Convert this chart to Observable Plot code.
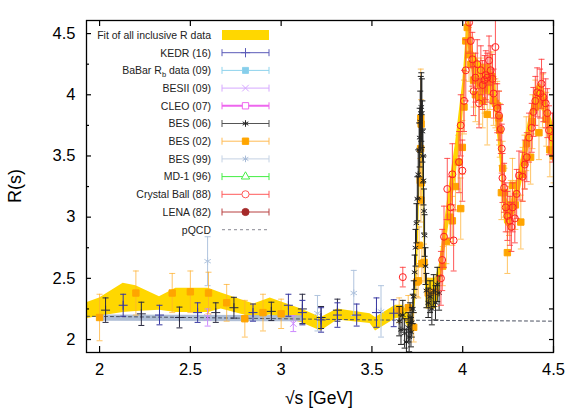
<!DOCTYPE html>
<html>
<head>
<meta charset="utf-8">
<script src="https://cdn.jsdelivr.net/npm/d3@7"></script>
<script src="https://cdn.jsdelivr.net/npm/@observablehq/plot@0.6"></script>
<style>
  html, body { margin: 0; padding: 0; background: #fff; }
  #chart { position: relative; width: 584px; height: 409px; font-family: "Liberation Sans", Arial, sans-serif; }
  #overlay { position: absolute; left: 0; top: 0; pointer-events: none; }
</style>
</head>
<body>
<div id="chart"></div>
<script>
// Axis ticks
const xTicks = [2, 2.5, 3, 3.5, 4, 4.5];
const yTicks = [2, 2.5, 3, 3.5, 4, 4.5];
const yMinorTicks = [2.25, 2.75, 3.25, 3.75, 4.25];

// Fit of all inclusive R data: [sqrt(s), lower, upper]
const fitBand = [
  [1.928,2.17,2.30],[2.00,2.19,2.34],[2.13,2.22,2.46],[2.20,2.23,2.44],[2.33,2.24,2.35],
  [2.42,2.22,2.42],[2.60,2.22,2.42],[2.67,2.25,2.38],[2.85,2.18,2.29],[2.94,2.20,2.34],
  [3.11,2.14,2.25],[3.22,2.07,2.18],[3.31,2.16,2.25],[3.49,2.13,2.21],[3.52,2.07,2.18],
  [3.63,2.17,2.28],[3.67,2.18,2.28],[3.70,2.10,2.22],[3.72,2.05,2.18],[3.74,2.30,2.50],
  [3.755,2.75,3.05],[3.765,3.30,3.65],[3.772,3.55,3.90],[3.78,3.20,3.55],[3.79,2.60,2.90],
  [3.80,2.25,2.50],[3.85,2.25,2.50],[3.87,2.35,2.60],[3.90,2.70,2.95],[3.93,3.00,3.30],
  [3.96,3.30,3.60],[4.00,3.80,4.10],[4.03,4.40,4.70],[4.06,4.10,4.35],[4.10,4.00,4.25],
  [4.15,4.00,4.25],[4.18,3.85,4.10],[4.21,3.40,3.70],[4.23,2.95,3.20],[4.26,2.90,3.10],
  [4.30,3.10,3.30],[4.35,3.45,3.70],[4.40,3.85,4.05],[4.42,3.90,4.10],[4.45,3.85,4.05],
  [4.48,3.60,3.85],[4.50,3.50,3.75]
];

// pQCD prediction and its uncertainty band
const pqcdLine = [[1.928,2.19],[2.5,2.18],[3.0,2.17],[3.5,2.16],[4.0,2.155],[4.5,2.15]];
const pqcdBand = [[2.00,2.15,2.20],[3.12,2.145,2.195]];

// Measurements: [sqrt(s) GeV, R, error]
const kedr = [
  [2.13,2.28,0.09],[2.33,2.20,0.08],[2.54,2.22,0.08],[2.845,2.22,0.07],[3.04,2.28,0.09],
  [3.117,2.22,0.10],[3.22,2.16,0.10],[3.31,2.20,0.10],[3.416,2.20,0.09],[3.525,2.22,0.12],
  [3.62,2.215,0.11]
];
const kedrScan = [
  [2.033,2.24,0.10],[2.23,2.21,0.095],[2.44,2.18,0.085],[2.64,2.22,0.08],[2.74,2.26,0.085],
  [2.946,2.23,0.075],[3.117,2.25,0.12],[3.22,2.18,0.09],[3.31,2.24,0.09]
];
const besii09 = [[2.595,2.18,0.07],[3.067,2.13,0.065]];
const bes99 = [[2.595,2.64,0.20],[3.20,2.215,0.145],[3.40,2.38,0.185],[3.55,2.23,0.21]];
const bes06 = [
  [3.650,2.15,0.12],[3.660,2.08,0.12],[3.670,2.20,0.12],[3.680,2.05,0.12],[3.690,1.98,0.10],
  [3.700,2.10,0.12],[3.705,2.02,0.12],[3.710,2.18,0.12],[3.715,2.06,0.12],[3.720,2.14,0.12],
  [3.725,2.25,0.12],[3.730,2.35,0.13],[3.735,2.55,0.14],[3.740,2.75,0.15],[3.745,2.95,0.16],
  [3.750,3.15,0.18],[3.755,3.35,0.20],[3.760,3.55,0.22],[3.763,3.65,0.24],[3.766,3.78,0.25],
  [3.769,3.85,0.30],[3.772,3.90,0.28],[3.775,3.85,0.28],[3.778,3.70,0.25],[3.781,3.50,0.22],
  [3.784,3.30,0.20],[3.787,3.05,0.18],[3.790,2.85,0.17],[3.795,2.60,0.15],[3.800,2.40,0.14],
  [3.810,2.30,0.12],[3.820,2.35,0.13],[3.830,2.25,0.13],[3.840,2.40,0.13],[3.850,2.30,0.14],
  [3.860,2.45,0.14],[3.870,2.38,0.14]
];
const bes02 = [
  [2.000,2.18,0.19],[2.200,2.38,0.18],[2.400,2.38,0.16],[2.500,2.39,0.17],[2.600,2.38,0.17],
  [2.700,2.30,0.15],[2.800,2.17,0.15],[2.900,2.22,0.15],[3.000,2.21,0.12],[3.650,2.24,0.10],
  [3.700,2.26,0.10],[3.730,2.10,0.12],[3.747,2.47,0.12],[3.755,2.48,0.14],[3.760,2.77,0.15],
  [3.766,3.30,0.18],[3.768,3.56,0.20],[3.769,3.81,0.40],[3.770,3.14,0.18],[3.771,3.76,0.20],
  [3.772,3.28,0.18],[3.775,2.62,0.15],[3.787,2.63,0.15],[3.810,2.38,0.12],[3.850,2.39,0.12],
  [3.890,2.60,0.16],[3.910,2.80,0.18],[3.930,3.00,0.20],[3.943,2.97,0.20],[3.960,3.25,0.20],
  [3.975,3.45,0.22],[3.989,3.07,0.25],[3.998,3.57,0.22],[4.007,3.90,0.22],[4.017,4.44,0.25],
  [4.025,4.55,0.25],[4.035,4.33,0.22],[4.045,4.25,0.22],[4.060,4.12,0.22],[4.070,4.00,0.22],
  [4.090,3.98,0.22],[4.100,4.10,0.20],[4.110,3.95,0.22],[4.120,4.05,0.20],[4.135,3.84,0.25],
  [4.150,4.10,0.22],[4.160,4.15,0.20],[4.170,3.95,0.20],[4.180,3.93,0.20],[4.190,3.91,0.20],
  [4.200,3.81,0.22],[4.204,3.71,0.22],[4.213,3.20,0.22],[4.220,3.40,0.22],[4.230,3.20,0.20],
  [4.246,2.71,0.17],[4.255,3.05,0.20],[4.265,3.10,0.20],[4.274,3.26,0.22],[4.290,3.10,0.20],
  [4.320,2.96,0.22],[4.330,3.35,0.22],[4.340,3.45,0.22],[4.350,3.60,0.22],[4.374,3.49,0.22],
  [4.384,3.78,0.22],[4.400,3.90,0.22],[4.420,3.69,0.22],[4.440,3.95,0.22],[4.460,3.80,0.22],
  [4.480,3.55,0.22],[4.500,3.50,0.22]
];
const crystalBall = [
  [3.670,2.51,0.08],[3.880,2.50,0.22],[3.887,2.65,0.25],[3.897,2.84,0.25],[3.915,3.23,0.25],
  [3.934,3.08,0.25],[3.943,3.35,0.25],[3.950,2.81,0.25],[3.980,3.45,0.25],[3.989,3.75,0.25],
  [3.998,3.38,0.25],[4.007,3.95,0.25],[4.017,4.20,0.25],[4.035,4.59,0.25],[4.044,4.44,0.22],
  [4.053,4.29,0.22],[4.060,4.03,0.20],[4.070,4.14,0.20],[4.080,4.25,0.20],[4.090,3.93,0.20],
  [4.100,4.20,0.20],[4.110,4.08,0.20],[4.120,4.12,0.20],[4.127,4.16,0.20],[4.135,4.14,0.20],
  [4.145,4.28,0.20],[4.154,4.20,0.20],[4.164,4.13,0.20],[4.170,4.01,0.20],[4.180,4.39,0.30],
  [4.190,3.89,0.20],[4.200,3.83,0.20],[4.210,3.72,0.20],[4.215,3.56,0.20],[4.219,3.32,0.20],
  [4.228,3.24,0.20],[4.237,3.08,0.20],[4.246,3.01,0.20],[4.260,2.97,0.20],[4.268,2.92,0.20],
  [4.275,3.08,0.20],[4.287,2.99,0.20],[4.297,3.19,0.20],[4.310,3.34,0.20],[4.330,3.33,0.20],
  [4.342,3.43,0.20],[4.353,3.49,0.20],[4.365,3.65,0.20],[4.380,3.73,0.20],[4.389,3.86,0.20],
  [4.400,3.95,0.20],[4.410,4.02,0.20],[4.426,4.01,0.20],[4.434,4.09,0.20],[4.444,3.98,0.20],
  [4.457,3.93,0.20],[4.466,3.85,0.20],[4.475,3.71,0.20],[4.494,3.65,0.20]
];

const legendLabels = [
  "Fit of all inclusive R data", "KEDR (16)", "BaBar R_b data (09)", "BESII (09)", "CLEO (07)",
  "BES (06)", "BES (02)", "BES (99)", "MD-1 (96)", "Crystal Ball (88)", "LENA (82)", "pQCD"
];

// Horizontal cap drawn at both ends of every error bar
const cap = {
  draw(ctx, size) {
    const w = Math.sqrt(size / Math.PI);
    ctx.moveTo(-w, 0);
    ctx.lineTo(w, 0);
  }
};

function errorSeries(data, o) {
  const bar = o.bar || o.color;
  const barOpacity = o.barOpacity ?? 1;
  const x = d => d[0];
  return [
    Plot.ruleX(data, {x, y1: d => d[1] - d[2], y2: d => d[1] + d[2], stroke: bar, strokeOpacity: barOpacity, strokeWidth: 1, clip: true}),
    Plot.dot(data, {x, y: d => d[1] - d[2], symbol: cap, r: 3, fill: "none", stroke: bar, strokeOpacity: barOpacity, strokeWidth: 1, clip: true}),
    Plot.dot(data, {x, y: d => d[1] + d[2], symbol: cap, r: 3, fill: "none", stroke: bar, strokeOpacity: barOpacity, strokeWidth: 1, clip: true}),
    Plot.dot(data, {x, y: d => d[1], symbol: o.symbol, r: o.r || 3, fill: o.fill || "none", stroke: o.color, strokeWidth: o.sw || 1, clip: true})
  ];
}

const chart = Plot.plot({
  width: 584,
  height: 409,
  marginLeft: 86,
  marginRight: 31,
  marginTop: 20,
  marginBottom: 57,
  x: {domain: [1.928, 4.5]},
  y: {domain: [1.894, 4.607]},
  style: {fontFamily: "'Liberation Sans', Arial, sans-serif", color: "#000", background: "#fff", overflow: "visible"},
  marks: [
    Plot.areaY(fitBand, {x: d => d[0], y1: d => d[1], y2: d => d[2], fill: "#ffd700", clip: true}),
    Plot.areaY(pqcdBand, {x: d => d[0], y1: d => d[1], y2: d => d[2], fill: "#a6b7d2", fillOpacity: 0.9, clip: true}),
    Plot.line(pqcdLine, {x: d => d[0], y: d => d[1], stroke: "#4a5060", strokeWidth: 1, strokeDasharray: "3,3", clip: true}),
    ...errorSeries(bes99, {color: "#b0c4de", symbol: "asterisk", r: 3.5}),
    ...errorSeries(besii09, {color: "#cc88ff", symbol: "times", r: 3}),
    ...errorSeries(bes02, {color: "#ffa500", bar: "#ffb030", barOpacity: 0.75, symbol: "square", fill: "#ffa500", r: 3.6}),
    ...errorSeries(kedrScan, {color: "#2a2a40", symbol: "plus", r: 3}),
    ...errorSeries(kedr, {color: "#3636a0", symbol: "plus", r: 3}),
    ...errorSeries(bes06, {color: "#222222", symbol: "asterisk", r: 3}),
    ...errorSeries(crystalBall, {color: "#ff2020", bar: "#ff3a3a", barOpacity: 0.85, symbol: "circle", r: 3.5}),
    Plot.frame({stroke: "#000", strokeWidth: 1.3}),
    // tick labels
    Plot.axisX({anchor: "bottom", ticks: xTicks, tickSize: 0, tickPadding: 11, fontSize: 16.5, label: null, tickFormat: d => String(d)}),
    Plot.axisY({anchor: "left", ticks: yTicks, tickSize: 0, tickPadding: 11, fontSize: 16.5, label: null, tickFormat: d => String(d)}),
    // inward tick marks on all four sides
    Plot.axisX({anchor: "bottom", ticks: xTicks, tickSize: -6, tickFormat: () => "", label: null, strokeWidth: 1.2}),
    Plot.axisX({anchor: "top", ticks: xTicks, tickSize: -5, tickFormat: () => "", label: null, strokeWidth: 1.2}),
    Plot.axisY({anchor: "left", ticks: yTicks, tickSize: -5, tickFormat: () => "", label: null, strokeWidth: 1.2}),
    Plot.axisY({anchor: "left", ticks: yMinorTicks, tickSize: -3, tickFormat: () => "", label: null, strokeWidth: 1.2}),
    Plot.axisY({anchor: "right", ticks: yTicks.concat(yMinorTicks), tickSize: -5, tickFormat: () => "", label: null, strokeWidth: 1.2})
  ]
});

const root = document.getElementById("chart");
root.appendChild(chart);

// Overlay: axis titles and the key inside the plotting area
const svg = d3.select(root).append("svg")
  .attr("id", "overlay").attr("width", 584).attr("height", 409)
  .style("font-family", "'Liberation Sans', Arial, sans-serif");

svg.append("text").attr("x", 319).attr("y", 404).attr("text-anchor", "middle")
  .attr("font-size", 17.5).attr("fill", "#000").text("√s [GeV]");
svg.append("text").attr("transform", "translate(21,186) rotate(-90)").attr("text-anchor", "middle")
  .attr("font-size", 18).attr("fill", "#000").text("R(s)");

const keyStyles = [
  {kind: "band", color: "#ffd700"},
  {color: "#5a5ab8", sym: d3.symbolPlus, size: 30},
  {color: "#8fd3ec", sym: d3.symbolSquare, size: 36, fill: "#87ceeb"},
  {color: "#d6a8ff", sym: d3.symbolTimes, size: 30},
  {color: "#ee66ee", sym: d3.symbolSquare, size: 40, width: 2},
  {color: "#555", sym: d3.symbolAsterisk, size: 30, mark: "#222"},
  {color: "#ffbb55", sym: d3.symbolSquare, size: 40, fill: "#ffa500", mark: "#ffa500"},
  {color: "#c4d2e4", sym: d3.symbolAsterisk, size: 30, mark: "#a8bcd8"},
  {color: "#44ee44", sym: d3.symbolTriangle, size: 30},
  {color: "#ff5a5a", sym: d3.symbolCircle, size: 40},
  {color: "#b84040", sym: d3.symbolCircle, size: 40, fill: "#a52a2a", mark: "#a52a2a"},
  {kind: "dash", color: "#a0a0a8"}
];

const x0 = 222, x1 = 269, xm = 245.5, textRight = 211;
legendLabels.forEach((label, i) => {
  const y = 35 + i * 17.7;
  const st = keyStyles[i];
  const t = svg.append("text").attr("x", textRight).attr("y", y + 3.8)
    .attr("text-anchor", "end").attr("font-size", 10.5).attr("fill", "#222");
  const parts = label.split("_");
  if (parts.length > 1) {
    const head = parts[0];
    const rest = parts[1];
    t.append("tspan").text(head);
    t.append("tspan").attr("font-size", 7.5).attr("dy", 2.5).text(rest[0]);
    t.append("tspan").attr("dy", -2.5).text(rest.slice(1));
  } else {
    t.text(label);
  }
  if (st.kind === "band") {
    svg.append("rect").attr("x", x0).attr("y", y - 5).attr("width", x1 - x0).attr("height", 10).attr("fill", st.color);
    return;
  }
  if (st.kind === "dash") {
    svg.append("line").attr("x1", x0).attr("x2", x1).attr("y1", y).attr("y2", y)
      .attr("stroke", st.color).attr("stroke-width", 1.2).attr("stroke-dasharray", "3,3");
    return;
  }
  const w = st.width || 1;
  svg.append("line").attr("x1", x0).attr("x2", x1).attr("y1", y).attr("y2", y).attr("stroke", st.color).attr("stroke-width", w);
  [x0, x1].forEach(xx => svg.append("line").attr("x1", xx).attr("x2", xx).attr("y1", y - 3.5).attr("y2", y + 3.5)
    .attr("stroke", st.color).attr("stroke-width", 1));
  svg.append("path").attr("transform", `translate(${xm},${y})`)
    .attr("d", d3.symbol(st.sym, st.size)())
    .attr("fill", st.fill || "#fff").attr("stroke", st.mark || st.color).attr("stroke-width", 1);
});
</script>
</body>
</html>
